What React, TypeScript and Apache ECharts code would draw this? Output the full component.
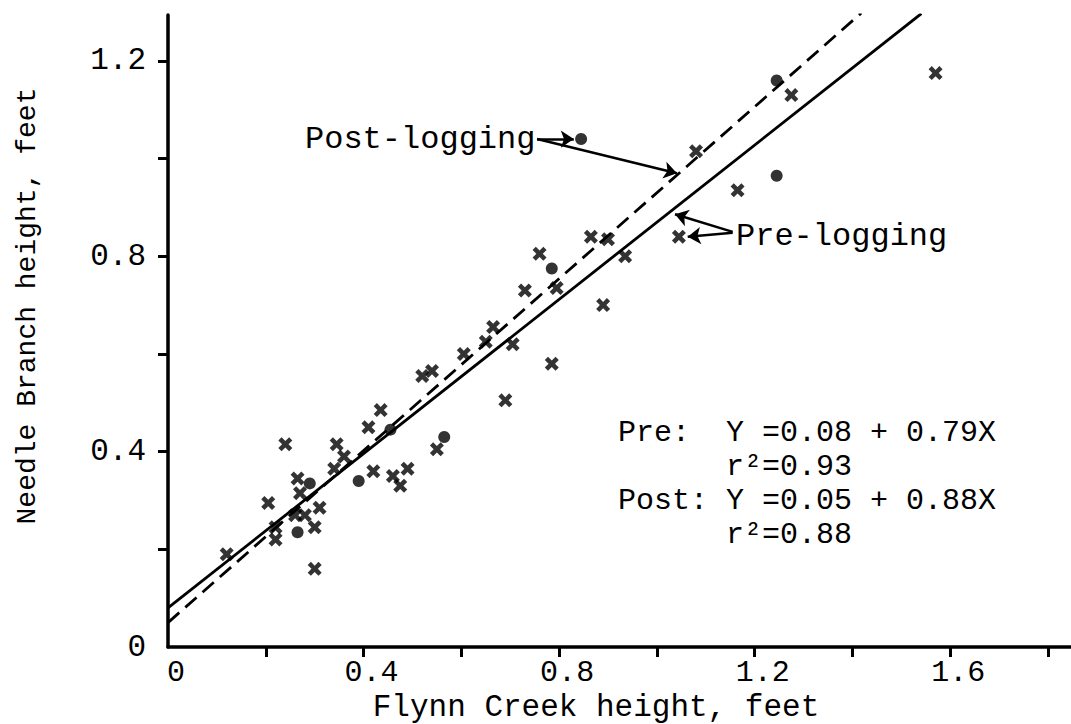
import React, { useEffect, useRef } from "react";
import * as echarts from "echarts";

// Pre-logging observations (x marks): [Flynn Creek height, Needle Branch height]
const preLogging: number[][] = [
  [0.12, 0.19], [0.22, 0.22], [0.3, 0.16], [0.3, 0.245], [0.26, 0.27], [0.28, 0.27],
  [0.31, 0.285], [0.205, 0.295], [0.27, 0.315], [0.265, 0.345], [0.24, 0.415], [0.345, 0.415],
  [0.36, 0.39], [0.34, 0.365], [0.42, 0.36], [0.46, 0.35], [0.475, 0.33], [0.49, 0.365],
  [0.55, 0.405], [0.41, 0.45], [0.435, 0.485], [0.52, 0.555], [0.54, 0.565], [0.605, 0.6],
  [0.65, 0.625], [0.665, 0.655], [0.705, 0.62], [0.69, 0.505], [0.73, 0.73], [0.795, 0.735],
  [0.76, 0.805], [0.865, 0.84], [0.9, 0.835], [0.935, 0.8], [0.89, 0.7], [0.785, 0.58],
  [1.08, 1.015], [1.165, 0.935], [1.275, 1.13], [1.57, 1.175], [1.045, 0.84], [0.22, 0.245],
];

// Post-logging observations (filled dots)
const postLogging: number[][] = [
  [0.265, 0.235], [0.29, 0.335], [0.39, 0.34], [0.565, 0.43], [0.455, 0.445],
  [0.785, 0.775], [1.245, 1.16], [1.245, 0.965], [0.845, 1.04],
];

// Regression lines (end points)
const preLine: number[][] = [[0, 0.08], [1.541, 1.297]];
const postLine: number[][] = [[0, 0.05], [1.418, 1.298]];

// Annotation arrows: [from, to] in data coordinates
const arrows: number[][][] = [
  [[0.755, 1.04], [1.041, 0.97]],
  [[0.755, 1.04], [0.83, 1.04]],
  [[1.155, 0.85], [1.037, 0.886]],
  [[1.155, 0.848], [1.063, 0.84]],
];

const xTicks = [0.2, 0.4, 0.6, 0.8, 1.0, 1.2, 1.4, 1.6, 1.8];
const xLabels = [0, 0.4, 0.8, 1.2, 1.6];
const yTicks = [0.2, 0.4, 0.6, 0.8, 1.0, 1.2];
const yLabels = [0, 0.4, 0.8, 1.2];

const equations = ["Pre:  Y =0.08 + 0.79X", "      r²=0.93", "Post: Y =0.05 + 0.88X", "      r²=0.88"];

const FONT = "'Liberation Mono', 'DejaVu Sans Mono', monospace";
const XMARK =
  "path://M0,2.3 L2.3,0 L5,2.7 L7.7,0 L10,2.3 L7.3,5 L10,7.7 L7.7,10 L5,7.3 L2.3,10 L0,7.7 L2.7,5 Z";

export default function App() {
  const ref = useRef<HTMLDivElement>(null);
  useEffect(() => {
    document.body.style.margin = "0";
    if (!ref.current) return;
    const chart = echarts.init(ref.current, null, { renderer: "svg" });
    const axisCommon = {
      type: "value" as const,
      min: 0,
      axisLine: { show: true, lineStyle: { color: "#000", width: 3.5 } },
      splitLine: { show: false },
    };
    chart.setOption({
      animation: false,
      backgroundColor: "#fff",
      grid: { left: 168, right: 0, top: 15, bottom: 77 },
      xAxis: {
        ...axisCommon,
        max: 1.847,
        axisTick: { show: true, length: 10, customValues: xTicks, lineStyle: { color: "#000", width: 3 } },
        axisLabel: {
          customValues: xLabels,
          margin: 11,
          color: "#000",
          fontFamily: FONT,
          fontSize: 30,
          lineHeight: 30,
          padding: [0, 0, 0, 16],
          formatter: (v: number) => String(v),
        },
      },
      yAxis: {
        ...axisCommon,
        max: 1.294,
        axisTick: { show: true, length: 10, customValues: yTicks, lineStyle: { color: "#000", width: 3 } },
        axisLabel: {
          customValues: yLabels,
          margin: 22,
          color: "#000",
          fontFamily: FONT,
          fontSize: 31,
          formatter: (v: number) => String(v),
        },
      },
      series: [
        {
          type: "line",
          data: preLine,
          symbol: "none",
          lineStyle: { color: "#000", width: 2.8 },
          markLine: {
            silent: true,
            symbol: ["none", "arrow"],
            symbolSize: 13,
            label: { show: false },
            lineStyle: { color: "#000", width: 2.5, type: "solid" },
            data: arrows.map((a) => [{ coord: a[0] }, { coord: a[1] }]),
          },
        },
        {
          type: "line",
          data: postLine,
          symbol: "none",
          lineStyle: { color: "#000", width: 2.8, type: [15, 8] },
        },
        {
          type: "scatter",
          data: preLogging,
          symbol: XMARK,
          symbolSize: 14,
          itemStyle: { color: "#000" },
        },
        {
          type: "scatter",
          data: postLogging,
          symbol: "circle",
          symbolSize: 12,
          itemStyle: { color: "#000" },
        },
      ],
      graphic: [
        {
          type: "text",
          x: 596,
          y: 707,
          style: {
            text: "Flynn Creek height, feet",
            font: `31px ${FONT}`,
            lineHeight: 30,
            fill: "#000",
            align: "center",
            verticalAlign: "middle",
          },
        },
        {
          type: "text",
          x: 27,
          y: 306,
          rotation: Math.PI / 2,
          style: { text: "Needle Branch height, feet", font: `28px ${FONT}`, fill: "#000", align: "center", verticalAlign: "middle" },
        },
        {
          type: "text",
          x: 305,
          y: 139,
          style: { text: "Post-logging", font: `32px ${FONT}`, fill: "#000", verticalAlign: "middle" },
        },
        {
          type: "text",
          x: 736,
          y: 236,
          style: { text: "Pre-logging", font: `32px ${FONT}`, fill: "#000", verticalAlign: "middle" },
        },
        {
          type: "text",
          x: 618,
          y: 416,
          style: { text: equations.join("\n"), font: `30px ${FONT}`, lineHeight: 34, fill: "#000", verticalAlign: "top" },
        },
      ],
    });
    return () => chart.dispose();
  }, []);
  return <div ref={ref} style={{ width: 1071, height: 724 }} />;
}
